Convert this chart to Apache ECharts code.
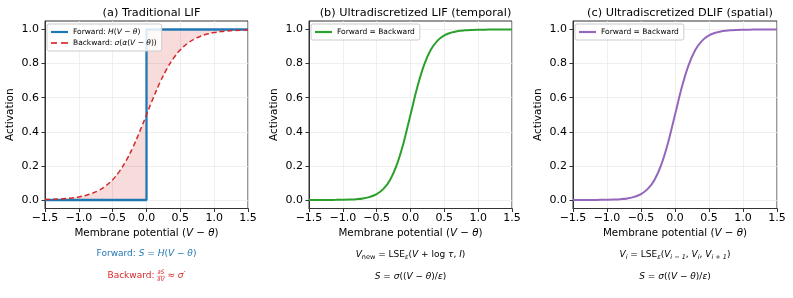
<!DOCTYPE html>
<html><head><meta charset="utf-8">
<script src="https://cdn.jsdelivr.net/npm/echarts@6/dist/echarts.min.js"></script>
<style>html,body{margin:0;padding:0;background:#fff}#c{width:793px;height:298px}</style>
</head><body><div id="c"></div>
<script>
// ---- data ----
const xs = [-1.5,-1.4,-1.3,-1.2,-1.1,-1.0,-0.9,-0.8,-0.7,-0.6,-0.5,-0.4,-0.3,-0.2,-0.1,0.0,0.1,0.2,0.3,0.4,0.5,0.6,0.7,0.8,0.9,1.0,1.1,1.2,1.3,1.4,1.5];
const backwardA = [0.0025,0.0037,0.0055,0.0082,0.0121,0.0180,0.0266,0.0392,0.0573,0.0832,0.1192,0.1680,0.2315,0.3100,0.4013,0.5000,0.5987,0.6900,0.7685,0.8320,0.8808,0.9168,0.9427,0.9608,0.9734,0.9820,0.9879,0.9918,0.9945,0.9963,0.9975];
const stepX = [-1.5, 0, 0, 1.5];
const stepY = [0, 0, 1, 1];
const curveB = [0.0000,0.0001,0.0002,0.0003,0.0007,0.0013,0.0025,0.0048,0.0093,0.0180,0.0344,0.0649,0.1192,0.2086,0.3392,0.5000,0.6608,0.7914,0.8808,0.9351,0.9656,0.9820,0.9907,0.9952,0.9975,0.9987,0.9993,0.9997,0.9998,0.9999,1.0000];
const curveC = [0.0000,0.0001,0.0002,0.0003,0.0007,0.0013,0.0025,0.0048,0.0093,0.0180,0.0344,0.0649,0.1192,0.2086,0.3392,0.5000,0.6608,0.7914,0.8808,0.9351,0.9656,0.9820,0.9907,0.9952,0.9975,0.9987,0.9993,0.9997,0.9998,0.9999,1.0000];
const yTicks = [0.0, 0.2, 0.4, 0.6, 0.8, 1.0];
const titles = ['(a) Traditional LIF', '(b) Ultradiscretized LIF (temporal)', '(c) Ultradiscretized DLIF (spatial)'];

// ---- layout ----
const FONT = 'DejaVu Sans';
const grids = [
  {left: 45, top: 21, width: 203, height: 187.5},
  {left: 309, top: 21, width: 203, height: 187.5},
  {left: 573, top: 21, width: 204, height: 187.5}
];
const fmt = v => (v < 0 ? '\u2212' : '') + Math.abs(v).toFixed(1);
const rich = {
  n: {fontFamily: FONT, fontSize: 10.3, color: '#000'},
  i: {fontFamily: FONT, fontSize: 10.3, color: '#000', fontStyle: 'italic'}
};
function xAxis(i) {
  return {
    type: 'value', gridIndex: i, min: -1.5, max: 1.5, interval: 0.5,
    name: '{n|Membrane potential (}{i|V}{n| \u2212 }{i|\u03b8}{n|)}',
    nameLocation: 'middle', nameGap: 20,
    nameTextStyle: {rich: rich},
    axisLine: {show: true, onZero: false, lineStyle: {color: '#333', width: 1}},
    axisTick: {show: true, inside: false, length: 3.5, lineStyle: {color: '#333'}},
    axisLabel: {formatter: fmt, color: '#000', fontSize: 11, fontFamily: FONT, margin: 4},
    splitLine: {show: true, lineStyle: {color: '#ebebeb', width: 0.8}}
  };
}
function yAxis(i) {
  return {
    type: 'value', gridIndex: i, min: -0.05, max: 1.05,
    name: 'Activation', nameLocation: 'middle', nameGap: 29,
    nameTextStyle: {fontFamily: FONT, fontSize: 10.5, color: '#000'},
    axisLine: {show: true, onZero: false, lineStyle: {color: '#333', width: 1}},
    axisTick: {show: true, length: 3.5, lineStyle: {color: '#333'}, customValues: yTicks},
    axisLabel: {formatter: v => v.toFixed(1), color: '#000', fontSize: 11, fontFamily: FONT, margin: 6, customValues: yTicks},
    splitLine: {show: true, lineStyle: {color: '#ebebeb', width: 0.8}}
  };
}
const zip = (a, b) => a.map((v, k) => [v, b[k]]);

// fill polygon between forward step and backward curve (panel a)
const fillPts = zip(stepX, stepY).concat(zip(xs, backwardA).reverse());

const legRich = {
  n: {fontFamily: FONT, fontSize: 7.5, color: '#000'},
  i: {fontFamily: FONT, fontSize: 7.5, color: '#000', fontStyle: 'italic'}
};
const legendBase = {
  orient: 'vertical', itemWidth: 17, itemHeight: 2.2, itemGap: 3, symbolKeepAspect: false,
  backgroundColor: 'rgba(255,255,255,0.85)', borderColor: '#cccccc', borderWidth: 1, borderRadius: 2,
  padding: [4, 5, 4, 4], textStyle: {rich: legRich, fontSize: 7.5, fontFamily: FONT}
};
const DASH_ICON = 'path://M0,0h6v1h-6zM10,0h7v1h-7z';

const option = {
  animation: false,
  backgroundColor: '#fff',
  textStyle: {fontFamily: FONT},
  title: titles.map((t, i) => ({
    text: t, left: grids[i].left + grids[i].width / 2, top: 3, textAlign: 'center',
    textStyle: {fontFamily: FONT, fontSize: 11.3, fontWeight: 'normal', color: '#000'}
  })),
  grid: grids.map(g => Object.assign({show: true, borderColor: '#333', borderWidth: 1, backgroundColor: 'transparent'}, g)),
  xAxis: [0, 1, 2].map(xAxis),
  yAxis: [0, 1, 2].map(yAxis),
  legend: [
    Object.assign({}, legendBase, {left: 47, top: 24,
      data: [{name: 'fwdA', icon: 'rect'}, {name: 'bwdA', icon: DASH_ICON}],
      formatter: n => n === 'fwdA' ? '{n|Forward: }{i|H}{n|(}{i|V}{n| \u2212 }{i|\u03b8}{n|)}'
                                   : '{n|Backward: }{i|\u03c3}{n|(}{i|\u03b1}{n|(}{i|V}{n| \u2212 }{i|\u03b8}{n|))}'}),
    Object.assign({}, legendBase, {left: 311, top: 24, data: [{name: 'fbB', icon: 'rect'}], formatter: () => '{n|Forward = Backward}'}),
    Object.assign({}, legendBase, {left: 575, top: 24, data: [{name: 'fbC', icon: 'rect'}], formatter: () => '{n|Forward = Backward}'})
  ],
  series: [
    {
      type: 'custom', xAxisIndex: 0, yAxisIndex: 0, data: [[0, 0]], silent: true, z: 1,
      renderItem: (params, api) => ({
        type: 'polygon',
        shape: {points: fillPts.map(p => api.coord(p))},
        style: {fill: 'rgba(214,39,40,0.16)'}
      })
    },
    {
      name: 'fwdA', type: 'line', xAxisIndex: 0, yAxisIndex: 0, data: zip(stepX, stepY),
      symbol: 'none', z: 3, lineStyle: {color: '#1f77b4', width: 2.3}, itemStyle: {color: '#1f77b4'}
    },
    {
      name: 'bwdA', type: 'line', xAxisIndex: 0, yAxisIndex: 0, data: zip(xs, backwardA),
      symbol: 'none', smooth: 0.4, z: 4, lineStyle: {color: '#d62728', width: 1.5, type: [5, 3]}, itemStyle: {color: '#e0484a'}
    },
    {
      name: 'fbB', type: 'line', xAxisIndex: 1, yAxisIndex: 1, data: zip(xs, curveB),
      symbol: 'none', smooth: 0.4, lineStyle: {color: '#2ca02c', width: 2}, itemStyle: {color: '#2ca02c'}
    },
    {
      name: 'fbC', type: 'line', xAxisIndex: 2, yAxisIndex: 2, data: zip(xs, curveC),
      symbol: 'none', smooth: 0.4, lineStyle: {color: '#9467bd', width: 2}, itemStyle: {color: '#9467bd'}
    }
  ],
  graphic: (function () {
    const g = [];
    const SZ = 9;
    const ctx = document.createElement('canvas').getContext('2d');
    const tw = (t, s, it) => { ctx.font = (it ? 'italic ' : '') + s + 'px "' + FONT + '"'; return ctx.measureText(t).width; };
    const richFor = color => ({
      n: {fontFamily: FONT, fontSize: SZ, fill: color, color: color},
      i: {fontFamily: FONT, fontSize: SZ, fill: color, color: color, fontStyle: 'italic'},
      s: {fontFamily: FONT, fontSize: 6.5, fill: color, color: color, padding: [5, 0, 0, 0]},
      si: {fontFamily: FONT, fontSize: 6.5, fill: color, color: color, fontStyle: 'italic', padding: [5, 0, 0, 0]}
    });
    const mk = (cx, cy, text, color, align) => ({
      type: 'text', x: cx, y: cy, silent: true,
      style: {text: text, align: align || 'center', verticalAlign: 'middle', rich: richFor(color)}
    });
    const ca = grids[0].left + grids[0].width / 2;
    const cb = grids[1].left + grids[1].width / 2;
    const cc = grids[2].left + grids[2].width / 2;
    g.push(mk(ca, 254, '{n|Forward: }{i|S}{n| = }{i|H}{n|(}{i|V}{n| \u2212 }{i|\u03b8}{n|)}', '#1f77b4'));
    // Backward line with a small stacked fraction
    const red = '#d62728';
    const w1 = tw('Backward: ', SZ, false);
    const wf = Math.max(tw('\u2202S', 6, true), tw('\u2202V', 6, true));
    const w3 = tw(' \u2248 ', SZ, false) + tw('\u03c3\u2032', SZ, true);
    const x0 = ca - (w1 + wf + w3) / 2;
    const yb = 276;
    g.push(mk(x0, yb, '{n|Backward: }', red, 'left'));
    g.push({type: 'text', x: x0 + w1 + wf / 2, y: yb - 3.3, silent: true,
      style: {text: '\u2202S', align: 'center', verticalAlign: 'middle', fontFamily: FONT, fontSize: 6, fontStyle: 'italic', fill: red}});
    g.push({type: 'text', x: x0 + w1 + wf / 2, y: yb + 3.8, silent: true,
      style: {text: '\u2202V', align: 'center', verticalAlign: 'middle', fontFamily: FONT, fontSize: 6, fontStyle: 'italic', fill: red}});
    g.push({type: 'line', silent: true, shape: {x1: x0 + w1, y1: yb + 0.3, x2: x0 + w1 + wf, y2: yb + 0.3}, style: {stroke: red, lineWidth: 0.5}});
    g.push(mk(x0 + w1 + wf, yb, '{n| \u2248 }{i|\u03c3\u2032}', red, 'left'));

    g.push(mk(cb, 255, '{i|V}{s|new}{n| = LSE}{si|\u03b5}{n|(}{i|V}{n| + log }{i|\u03c4}{n|, }{i|I}{n|)}', '#000'));
    g.push(mk(cb, 277, '{i|S}{n| = }{i|\u03c3}{n|((}{i|V}{n| \u2212 }{i|\u03b8}{n|)/}{i|\u03b5}{n|)}', '#000'));
    g.push(mk(cc, 255, '{i|V}{si|i}{n| = LSE}{si|\u03b5}{n|(}{i|V}{si|i \u2212 1}{n|, }{i|V}{si|i}{n|, }{i|V}{si|i + 1}{n|)}', '#000'));
    g.push(mk(cc, 277, '{i|S}{n| = }{i|\u03c3}{n|((}{i|V}{n| \u2212 }{i|\u03b8}{n|)/}{i|\u03b5}{n|)}', '#000'));
    return g;
  })()
};
const chart = echarts.init(document.getElementById('c'), null, {renderer: 'canvas'});
chart.setOption(option);
</script>
</body></html>
